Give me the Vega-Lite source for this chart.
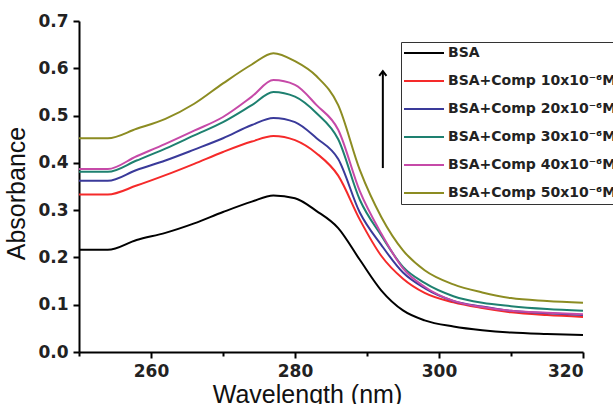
{
  "$schema": "https://vega.github.io/schema/vega-lite/v6.json",
  "width": 504,
  "height": 331,
  "autosize": {"type": "none"},
  "padding": {"left": 79, "top": 21, "right": 30, "bottom": 52},
  "background": "white",
  "config": {
    "view": {"stroke": null},
    "axis": {
      "domainColor": "black", "domainWidth": 2, "tickColor": "black", "tickWidth": 2,
      "labelFont": "DejaVu Sans", "labelFontWeight": "bold", "labelFontSize": 17, "labelColor": "#222",
      "titleFont": "Liberation Sans", "titleFontWeight": "normal", "titleFontSize": 25, "titleColor": "#111",
      "grid": false
    }
  },
  "layer": [
    {
      "data": {"values": [
        {"w":250,"BSA":0.216,"BSA+Comp 10x10⁻⁶M":0.333,"BSA+Comp 20x10⁻⁶M":0.362,"BSA+Comp 30x10⁻⁶M":0.381,"BSA+Comp 40x10⁻⁶M":0.387,"BSA+Comp 50x10⁻⁶M":0.452},
        {"w":254,"BSA":0.216,"BSA+Comp 10x10⁻⁶M":0.333,"BSA+Comp 20x10⁻⁶M":0.362,"BSA+Comp 30x10⁻⁶M":0.381,"BSA+Comp 40x10⁻⁶M":0.387,"BSA+Comp 50x10⁻⁶M":0.452},
        {"w":258,"BSA":0.237,"BSA+Comp 10x10⁻⁶M":0.352,"BSA+Comp 20x10⁻⁶M":0.385,"BSA+Comp 30x10⁻⁶M":0.405,"BSA+Comp 40x10⁻⁶M":0.414,"BSA+Comp 50x10⁻⁶M":0.472},
        {"w":262,"BSA":0.252,"BSA+Comp 10x10⁻⁶M":0.374,"BSA+Comp 20x10⁻⁶M":0.405,"BSA+Comp 30x10⁻⁶M":0.430,"BSA+Comp 40x10⁻⁶M":0.440,"BSA+Comp 50x10⁻⁶M":0.493},
        {"w":266,"BSA":0.272,"BSA+Comp 10x10⁻⁶M":0.398,"BSA+Comp 20x10⁻⁶M":0.428,"BSA+Comp 30x10⁻⁶M":0.458,"BSA+Comp 40x10⁻⁶M":0.468,"BSA+Comp 50x10⁻⁶M":0.525},
        {"w":270,"BSA":0.296,"BSA+Comp 10x10⁻⁶M":0.423,"BSA+Comp 20x10⁻⁶M":0.452,"BSA+Comp 30x10⁻⁶M":0.486,"BSA+Comp 40x10⁻⁶M":0.497,"BSA+Comp 50x10⁻⁶M":0.568},
        {"w":274,"BSA":0.318,"BSA+Comp 10x10⁻⁶M":0.445,"BSA+Comp 20x10⁻⁶M":0.480,"BSA+Comp 30x10⁻⁶M":0.522,"BSA+Comp 40x10⁻⁶M":0.540,"BSA+Comp 50x10⁻⁶M":0.608},
        {"w":277,"BSA":0.331,"BSA+Comp 10x10⁻⁶M":0.457,"BSA+Comp 20x10⁻⁶M":0.495,"BSA+Comp 30x10⁻⁶M":0.550,"BSA+Comp 40x10⁻⁶M":0.575,"BSA+Comp 50x10⁻⁶M":0.632},
        {"w":280,"BSA":0.325,"BSA+Comp 10x10⁻⁶M":0.448,"BSA+Comp 20x10⁻⁶M":0.486,"BSA+Comp 30x10⁻⁶M":0.540,"BSA+Comp 40x10⁻⁶M":0.565,"BSA+Comp 50x10⁻⁶M":0.615},
        {"w":283,"BSA":0.298,"BSA+Comp 10x10⁻⁶M":0.420,"BSA+Comp 20x10⁻⁶M":0.452,"BSA+Comp 30x10⁻⁶M":0.505,"BSA+Comp 40x10⁻⁶M":0.522,"BSA+Comp 50x10⁻⁶M":0.583},
        {"w":286,"BSA":0.262,"BSA+Comp 10x10⁻⁶M":0.373,"BSA+Comp 20x10⁻⁶M":0.408,"BSA+Comp 30x10⁻⁶M":0.450,"BSA+Comp 40x10⁻⁶M":0.470,"BSA+Comp 50x10⁻⁶M":0.522},
        {"w":289,"BSA":0.195,"BSA+Comp 10x10⁻⁶M":0.280,"BSA+Comp 20x10⁻⁶M":0.295,"BSA+Comp 30x10⁻⁶M":0.322,"BSA+Comp 40x10⁻⁶M":0.340,"BSA+Comp 50x10⁻⁶M":0.385},
        {"w":292,"BSA":0.130,"BSA+Comp 10x10⁻⁶M":0.203,"BSA+Comp 20x10⁻⁶M":0.226,"BSA+Comp 30x10⁻⁶M":0.246,"BSA+Comp 40x10⁻⁶M":0.250,"BSA+Comp 50x10⁻⁶M":0.285},
        {"w":295,"BSA":0.088,"BSA+Comp 10x10⁻⁶M":0.155,"BSA+Comp 20x10⁻⁶M":0.168,"BSA+Comp 30x10⁻⁶M":0.180,"BSA+Comp 40x10⁻⁶M":0.177,"BSA+Comp 50x10⁻⁶M":0.215},
        {"w":298,"BSA":0.067,"BSA+Comp 10x10⁻⁶M":0.125,"BSA+Comp 20x10⁻⁶M":0.135,"BSA+Comp 30x10⁻⁶M":0.146,"BSA+Comp 40x10⁻⁶M":0.138,"BSA+Comp 50x10⁻⁶M":0.173},
        {"w":302,"BSA":0.054,"BSA+Comp 10x10⁻⁶M":0.105,"BSA+Comp 20x10⁻⁶M":0.108,"BSA+Comp 30x10⁻⁶M":0.118,"BSA+Comp 40x10⁻⁶M":0.108,"BSA+Comp 50x10⁻⁶M":0.143},
        {"w":306,"BSA":0.046,"BSA+Comp 10x10⁻⁶M":0.093,"BSA+Comp 20x10⁻⁶M":0.096,"BSA+Comp 30x10⁻⁶M":0.104,"BSA+Comp 40x10⁻⁶M":0.095,"BSA+Comp 50x10⁻⁶M":0.126},
        {"w":310,"BSA":0.041,"BSA+Comp 10x10⁻⁶M":0.084,"BSA+Comp 20x10⁻⁶M":0.087,"BSA+Comp 30x10⁻⁶M":0.097,"BSA+Comp 40x10⁻⁶M":0.087,"BSA+Comp 50x10⁻⁶M":0.114},
        {"w":315,"BSA":0.038,"BSA+Comp 10x10⁻⁶M":0.078,"BSA+Comp 20x10⁻⁶M":0.082,"BSA+Comp 30x10⁻⁶M":0.091,"BSA+Comp 40x10⁻⁶M":0.083,"BSA+Comp 50x10⁻⁶M":0.108},
        {"w":320,"BSA":0.036,"BSA+Comp 10x10⁻⁶M":0.074,"BSA+Comp 20x10⁻⁶M":0.078,"BSA+Comp 30x10⁻⁶M":0.087,"BSA+Comp 40x10⁻⁶M":0.080,"BSA+Comp 50x10⁻⁶M":0.104}
      ]},
      "transform": [
        {"fold": ["BSA","BSA+Comp 10x10⁻⁶M","BSA+Comp 20x10⁻⁶M","BSA+Comp 30x10⁻⁶M","BSA+Comp 40x10⁻⁶M","BSA+Comp 50x10⁻⁶M"], "as": ["series","a"]}
      ],
      "mark": {"type": "line", "strokeWidth": 2, "interpolate": "monotone"},
      "encoding": {
        "x": {"field": "w", "type": "quantitative", "scale": {"domain": [250, 320], "nice": false},
          "axis": {"title": "Wavelength (nm)", "values": [250,260,270,280,290,300,310,320],
            "labelExpr": "datum.value % 20 == 0 && datum.value > 250 ? datum.label : ''",
            "tickSize": {"condition": {"test": "datum.value % 20 == 0", "value": 6}, "value": 4},
            "labelPadding": 5, "titleX": 228, "titleY": 30, "titleBaseline": "top", "titleAnchor": "middle", "titleAlign": "center"}},
        "y": {"field": "a", "type": "quantitative", "scale": {"domain": [0, 0.7], "nice": false},
          "axis": {"title": "Absorbance", "values": [0,0.05,0.1,0.15,0.2,0.25,0.3,0.35,0.4,0.45,0.5,0.55,0.6,0.65,0.7],
            "labelExpr": "round(datum.value*20) % 2 == 0 ? format(datum.value, '.1f') : ''",
            "tickSize": {"condition": {"test": "round(datum.value*20) % 2 == 0", "value": 6}, "value": 4},
            "labelPadding": 5, "titlePadding": 8, "titleY": 172}},
        "color": {"field": "series", "type": "nominal",
          "scale": {"domain": ["BSA","BSA+Comp 10x10⁻⁶M","BSA+Comp 20x10⁻⁶M","BSA+Comp 30x10⁻⁶M","BSA+Comp 40x10⁻⁶M","BSA+Comp 50x10⁻⁶M"],
            "range": ["#000000","#f52a2a","#3a3a9a","#1e8070","#c64aa8","#8c8c22"]},
          "legend": {"title": null, "orient": "none", "legendX": 322, "legendY": 21,
            "symbolType": "stroke", "symbolSize": 1600, "symbolStrokeWidth": 2,
            "labelFont": "DejaVu Sans", "labelFontWeight": "bold", "labelFontSize": 14, "labelColor": "#222",
            "labelOffset": 3, "labelLimit": 0, "rowPadding": 10, "padding": 2, "clipHeight": 18,
            "strokeColor": "#333"}}
      }
    },
    {
      "data": {"values": [{"w": 292.2, "a": 0.389, "a2": 0.594}]},
      "mark": {"type": "rule", "strokeWidth": 2, "color": "black"},
      "encoding": {
        "x": {"field": "w", "type": "quantitative"},
        "y": {"field": "a", "type": "quantitative"},
        "y2": {"field": "a2"}
      }
    },
    {
      "data": {"values": [{"w": 292.2, "a": 0.594}]},
      "mark": {"type": "point", "shape": "M-0.6,0.8L0,0L0.6,0.8", "filled": false, "size": 144, "strokeWidth": 2, "color": "black", "opacity": 1},
      "encoding": {
        "x": {"field": "w", "type": "quantitative"},
        "y": {"field": "a", "type": "quantitative"}
      }
    }
  ]
}
